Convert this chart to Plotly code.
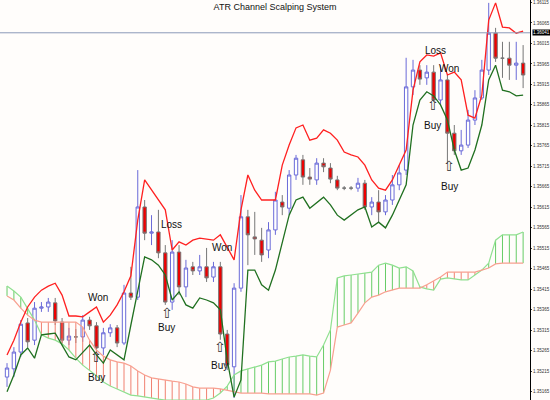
import plotly.graph_objects as go

# values in pips above 1.35000
open_p  = [201,221,262,333,291,369,372,382,335,291,299,299,340,326,272,309,321,284,406,396,616,552,555,504,384,506,421,470,460,470,445,470,306,226,418,592,543,535,511,560,628,613,694,731,689,682,723,711,682,662,662,662,674,616,628,604,633,670,706,909,950,931,945,877,926,796,753,767,828,882,950,1040,979,979,962,967]
close_p = [223,262,330,287,369,372,384,338,291,301,299,340,326,272,309,321,284,406,396,616,552,555,504,384,506,421,467,460,470,443,470,306,230,418,592,548,538,499,560,633,616,694,735,689,684,723,714,684,662,662,662,674,616,628,604,633,670,699,909,950,928,945,877,926,796,753,767,828,882,950,1040,979,979,962,967,938]
high_p  = [235,274,340,345,384,384,394,394,345,321,318,352,348,335,321,330,328,426,470,706,633,596,609,523,535,523,487,482,499,516,482,482,316,430,645,609,604,565,579,653,645,706,743,743,711,735,735,723,692,667,667,687,682,640,657,645,694,718,980,975,962,962,962,962,938,816,804,853,901,975,1114,1053,1019,1019,1019,1011]
low_p   = [177,201,250,274,279,360,360,328,279,279,284,287,316,262,255,299,274,279,389,389,535,523,491,377,365,401,396,450,450,433,433,292,218,150,409,474,499,482,491,548,596,596,682,670,670,670,701,674,657,657,657,653,609,596,579,596,621,657,694,889,914,914,872,865,723,743,743,760,816,877,938,970,931,926,926,906]
upper_ch = [255,291,335,372,396,413,423,430,401,350,350,348,360,372,335,352,377,409,448,584,682,657,633,609,511,531,523,535,540,538,535,548,516,487,609,694,657,633,633,633,718,767,809,816,779,784,804,796,779,750,743,738,718,682,662,657,682,718,755,901,970,987,984,992,938,945,926,840,833,889,1072,1114,1055,1053,1040,1045]
lower_ch = [165,206,255,272,247,304,306,308,279,250,243,260,279,255,235,267,255,243,328,413,494,487,474,450,389,409,377,369,394,389,382,365,243,152,194,462,462,426,413,462,531,596,633,640,613,626,640,621,596,584,596,609,616,567,579,565,596,633,670,816,877,897,887,865,828,755,706,711,755,816,926,962,901,897,887,889]
span_a = [423,411,396,369,340,304,296,291,282,267,247,230,218,204,189,179,172,165,157,155,152,150,147,145,145,145,145,145,145,145,150,162,179,206,216,221,226,230,238,240,245,250,252,255,252,250,279,316,443,448,450,452,455,457,474,479,474,467,470,460,421,416,413,440,443,440,438,438,450,462,479,535,548,548,548,555]
span_b = [399,389,369,352,340,335,335,335,335,335,335,323,291,267,252,243,238,235,228,216,206,199,196,194,191,189,184,177,174,174,174,172,169,165,162,162,162,162,160,160,160,160,160,160,160,157,162,218,323,328,333,357,382,396,401,409,413,418,418,418,418,426,435,445,457,457,457,457,457,462,467,477,479,479,479,479]
y_ticks_pips = [1115 - 50*k for k in range(20)]
last_price_pips = 1041
notes_text = ["Won","Loss","Won","Loss","Won"]
notes_x = [13.2,23.9,31.2,62.2,64.2]
notes_y = [394,574,516,997,953]
buy_x = [13,23.2,30.9,61.9,64.3]
buy_y = [199,321,230,814,667]
arrow_y = [250,357,274,865,716]

def pr(v): return 1.35 + v/100000.0

n = len(open_p)
idx = list(range(n))
fig = go.Figure()

gx, gy, rx, ry = [], [], [], []
for i in idx:
    if span_a[i] >= span_b[i]:
        gx += [i, i, None]; gy += [pr(span_a[i]), pr(span_b[i]), None]
    else:
        rx += [i, i, None]; ry += [pr(span_a[i]), pr(span_b[i]), None]
fig.add_trace(go.Scatter(x=gx, y=gy, mode="lines", line=dict(color="#66cc66", width=1), hoverinfo="skip"))
fig.add_trace(go.Scatter(x=rx, y=ry, mode="lines", line=dict(color="#f08070", width=1), hoverinfo="skip"))
fig.add_trace(go.Scatter(x=idx, y=[pr(v) for v in span_a], mode="lines", line=dict(color="#90e090", width=1.2)))
fig.add_trace(go.Scatter(x=idx, y=[pr(v) for v in span_b], mode="lines", line=dict(color="#f8a090", width=1.2)))

fig.add_trace(go.Candlestick(x=idx, open=[pr(v) for v in open_p], high=[pr(v) for v in high_p],
    low=[pr(v) for v in low_p], close=[pr(v) for v in close_p], whiskerwidth=0,
    increasing=dict(line=dict(color="#6a6ad8", width=1), fillcolor="white"),
    decreasing=dict(line=dict(color="#777777", width=1), fillcolor="#ee0000")))

fig.add_trace(go.Scatter(x=idx, y=[pr(v) for v in upper_ch], mode="lines", line=dict(color="#ff2020", width=1.3)))
fig.add_trace(go.Scatter(x=idx, y=[pr(v) for v in lower_ch], mode="lines", line=dict(color="#207020", width=1.3)))

fig.add_hline(y=pr(last_price_pips), line=dict(color="#8c9ab8", width=1))

for t, x, y in zip(notes_text, notes_x, notes_y):
    fig.add_annotation(x=x, y=pr(y), text=t, showarrow=False, font=dict(family="Arial", size=10, color="#111"))
for x, y, a in zip(buy_x, buy_y, arrow_y):
    fig.add_annotation(x=x, y=pr(y), text="Buy", showarrow=False, font=dict(family="Arial", size=10, color="#111"))
    fig.add_annotation(x=x, y=pr(a), text="⇧", showarrow=False, font=dict(family="DejaVu Sans", size=14, color="#333"))

fig.add_annotation(xref="paper", yref="y", x=1.0, xanchor="left", xshift=2, y=pr(last_price_pips),
    text="%.5f" % pr(last_price_pips), showarrow=False, bgcolor="black",
    font=dict(family="Arial", size=4.5, color="white"), borderpad=0)

fig.update_layout(
    width=550, height=400, margin=dict(l=0, r=20, t=0, b=0),
    paper_bgcolor="#fffdfb", plot_bgcolor="#fffdfb", showlegend=False,
    title=dict(text="ATR Channel Scalping System", x=0.5, y=0.99, yanchor="top",
               font=dict(family="Arial", size=9, color="#111")),
    xaxis=dict(range=[-1.02, 76.0], showgrid=False, zeroline=False, showticklabels=False,
               rangeslider=dict(visible=False), showline=False),
    yaxis=dict(range=[pr(145), pr(1121)], side="right", showgrid=False, zeroline=False,
               tickvals=[pr(v) for v in y_ticks_pips], ticktext=["%.5f" % pr(v) for v in y_ticks_pips],
               tickfont=dict(family="Arial", size=4.5, color="#333"), ticks="outside", ticklen=1,
               showline=True, linecolor="black", linewidth=1),
)
fig.write_html("out.html", config={"displayModeBar": False})
with open("out.html", encoding="utf-8") as f:
    html = f.read()
html = html.replace("<head>", "<head><style>html,body{margin:0;padding:0;overflow:hidden}</style>", 1)
with open("out.html", "w", encoding="utf-8") as f:
    f.write(html)
